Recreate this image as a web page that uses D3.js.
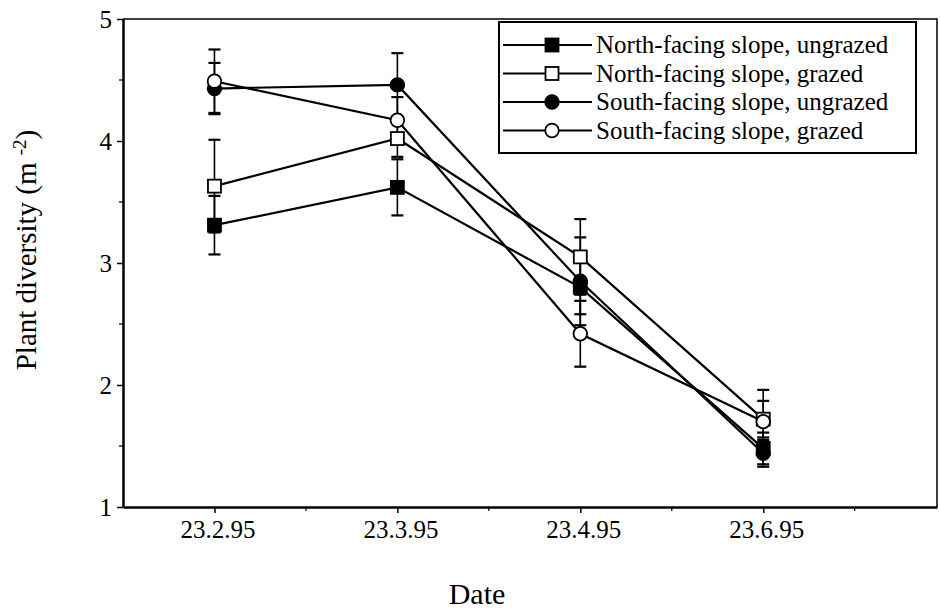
<!DOCTYPE html>
<html>
<head>
<meta charset="utf-8">
<script src="https://cdn.jsdelivr.net/npm/d3@7"></script>
<style>
  body { margin: 0; background: #fff; }
  svg text { font-family: "Liberation Serif", "Times New Roman", serif; fill: #000; }
</style>
</head>
<body>
<script>
// values
const dates = ["23.2.95", "23.3.95", "23.4.95", "23.6.95"];
const seriesNames = ["North-facing slope, ungrazed", "North-facing slope, grazed",
                     "South-facing slope, ungrazed", "South-facing slope, grazed"];
const northUngrazed = [3.31, 3.62, 2.80, 1.48];
const northUngrazedErr = [0.24, 0.23, 0.22, 0.13];
const northGrazed = [3.63, 4.02, 3.05, 1.72];
const northGrazedErr = [0.38, 0.15, 0.31, 0.15];
const southUngrazed = [4.43, 4.46, 2.85, 1.44];
const southUngrazedErr = [0.21, 0.26, 0.36, 0.11];
const southGrazed = [4.49, 4.17, 2.42, 1.70];
const southGrazedErr = [0.26, 0.19, 0.27, 0.26];
const yTicks = [1, 2, 3, 4, 5];

const series = [
  {name: seriesNames[0], vals: northUngrazed, err: northUngrazedErr, shape: "square", fill: "#000"},
  {name: seriesNames[1], vals: northGrazed, err: northGrazedErr, shape: "square", fill: "#fff"},
  {name: seriesNames[2], vals: southUngrazed, err: southUngrazedErr, shape: "circle", fill: "#000"},
  {name: seriesNames[3], vals: southGrazed, err: southGrazedErr, shape: "circle", fill: "#fff"}
];

const W = 940, H = 611;
const pLeft = 123, pRight = 937, pTop = 19, pBottom = 507;
const serif = "'Liberation Serif', 'Times New Roman', serif";

const svg = d3.select("body").append("svg")
  .attr("width", W)
  .attr("height", H);

const x = d3.scaleLinear().domain([0.5, 4.95]).range([pLeft, pRight]);
const y = d3.scaleLinear().domain([1, 5]).range([pBottom, pTop]);

// frame: top and right
svg.append("path")
  .attr("d", `M${pLeft},${pTop}H${pRight}V${pBottom}`)
  .attr("fill", "none")
  .attr("stroke", "#000")
  .attr("stroke-width", 1.5);

// x axis
const xAxis = svg.append("g")
  .attr("transform", `translate(0,${pBottom})`)
  .call(d3.axisBottom(x).tickValues(dates.map((d, i) => i + 1))
    .tickFormat((d, i) => dates[i]).tickSize(6).tickSizeOuter(0));
xAxis.attr("font-family", serif).attr("font-size", 25);
xAxis.select(".domain").attr("stroke-width", 2.5);
xAxis.selectAll(".tick line").attr("stroke-width", 1.5);
xAxis.selectAll(".tick text")
  .attr("y", 31).attr("dy", 0).attr("dx", 3);
svg.append("g")
  .attr("transform", `translate(0,${pBottom})`)
  .selectAll("line").data([1.5, 2.5, 3.5, 4.5]).join("line")
  .attr("x1", d => x(d)).attr("x2", d => x(d))
  .attr("y1", 0).attr("y2", 4)
  .attr("stroke", "#000").attr("stroke-width", 1.2);

// y axis
const yAxis = svg.append("g")
  .attr("transform", `translate(${pLeft},0)`)
  .call(d3.axisLeft(y).tickValues(yTicks).tickFormat(d3.format("d")).tickSize(6).tickSizeOuter(0));
yAxis.attr("font-family", serif).attr("font-size", 25);
yAxis.select(".domain").attr("stroke-width", 2.5);
yAxis.selectAll(".tick line").attr("stroke-width", 1.5);
yAxis.selectAll(".tick text").attr("x", -11).attr("dy", "0.35em");
svg.append("g")
  .attr("transform", `translate(${pLeft},0)`)
  .selectAll("line").data([1.5, 2.5, 3.5, 4.5]).join("line")
  .attr("x1", -4).attr("x2", 0)
  .attr("y1", d => y(d)).attr("y2", d => y(d))
  .attr("stroke", "#000").attr("stroke-width", 1.2);

// axis titles
svg.append("text")
  .attr("x", 477).attr("y", 604)
  .attr("text-anchor", "middle")
  .attr("font-size", "30px")
  .text("Date");

const yt = svg.append("text")
  .attr("text-anchor", "middle")
  .attr("font-size", "29px")
  .attr("transform", "translate(36,250) rotate(-90)");
yt.append("tspan").text("Plant diversity (m ");
yt.append("tspan").attr("baseline-shift", "super").attr("font-size", "19px").text("-2");
yt.append("tspan").text(")");

// lines
const line = d3.line().x((d, i) => x(i + 1)).y(d => y(d));
svg.append("g").selectAll("path").data(series).join("path")
  .attr("d", d => line(d.vals))
  .attr("fill", "none")
  .attr("stroke", "#000")
  .attr("stroke-width", 2.2);

// error bars
const eb = svg.append("g").attr("stroke", "#000").attr("stroke-width", 1.6);
series.forEach(s => {
  s.vals.forEach((v, i) => {
    const cx = x(i + 1);
    eb.append("line").attr("x1", cx).attr("x2", cx)
      .attr("y1", y(v - s.err[i])).attr("y2", y(v + s.err[i]));
    [v - s.err[i], v + s.err[i]].forEach(e => {
      eb.append("line").attr("x1", cx - 6).attr("x2", cx + 6)
        .attr("y1", y(e)).attr("y2", y(e)).attr("stroke-width", 2.2);
    });
  });
});

// markers
function drawMarker(g, shape, fill, cx, cy) {
  if (shape === "square") {
    g.append("rect").attr("x", cx - 6.5).attr("y", cy - 6.5)
      .attr("width", 13).attr("height", 13)
      .attr("fill", fill).attr("stroke", "#000").attr("stroke-width", 1.8);
  } else {
    g.append("circle").attr("cx", cx).attr("cy", cy).attr("r", 6.8)
      .attr("fill", fill).attr("stroke", "#000").attr("stroke-width", 1.8);
  }
}
const mk = svg.append("g");
series.forEach(s => {
  s.vals.forEach((v, i) => drawMarker(mk, s.shape, s.fill, x(i + 1), y(v)));
});

// legend
const lg = svg.append("g");
lg.append("rect")
  .attr("x", 499).attr("y", 22).attr("width", 417).attr("height", 131)
  .attr("fill", "#fff").attr("stroke", "#000").attr("stroke-width", 2);
series.forEach((s, i) => {
  const ly = 45 + i * 28.5;
  lg.append("line").attr("x1", 503).attr("x2", 592).attr("y1", ly).attr("y2", ly)
    .attr("stroke", "#000").attr("stroke-width", 1.8);
  drawMarker(lg, s.shape, s.fill, 552, ly);
  lg.append("text").attr("x", 596).attr("y", ly + 8)
    .attr("font-size", "25px")
    .text(s.name);
});
</script>
</body>
</html>
